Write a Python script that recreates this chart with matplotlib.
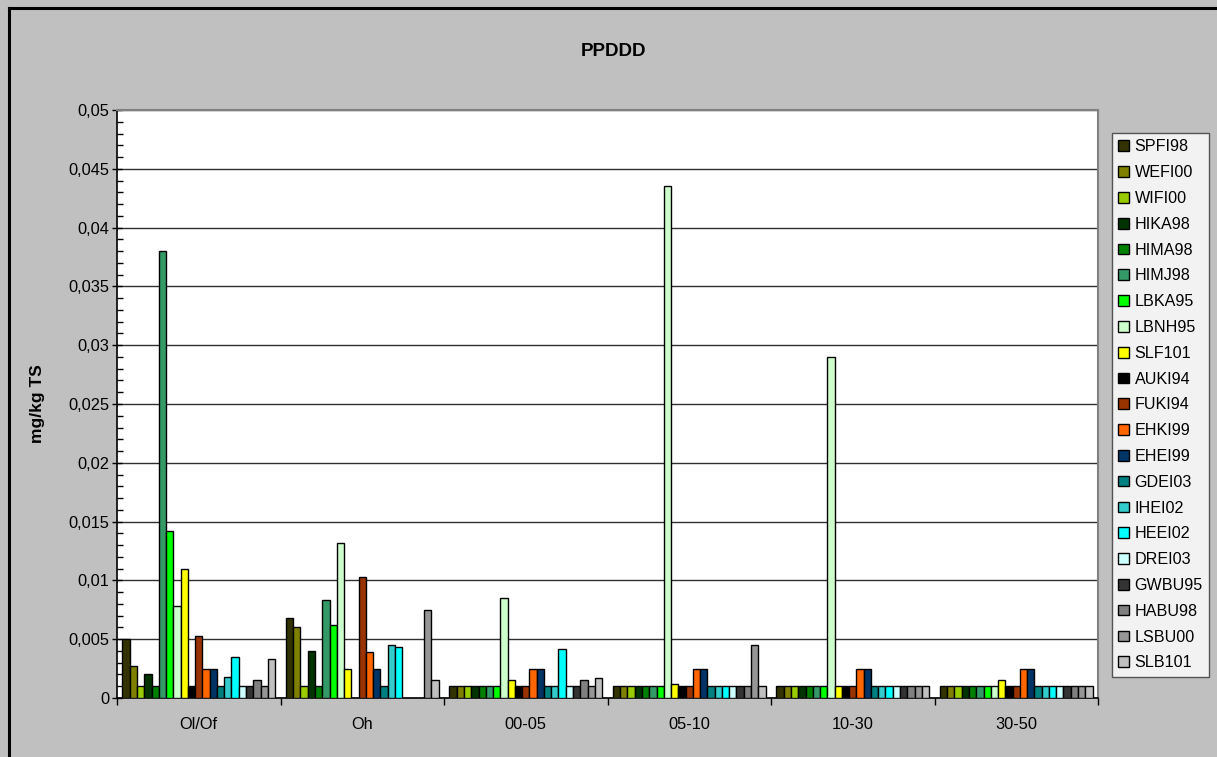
import numpy as np
import matplotlib
matplotlib.use("Agg")
import matplotlib.pyplot as plt
from matplotlib.patches import Patch
from matplotlib.lines import Line2D
from matplotlib.ticker import MultipleLocator, FuncFormatter

plt.rcParams['font.family'] = ['Liberation Sans', 'DejaVu Sans']

categories = ["Ol/Of", "Oh", "00-05", "05-10", "10-30", "30-50"]

series_names = ["SPFI98", "WEFI00", "WIFI00", "HIKA98", "HIMA98", "HIMJ98",
                "LBKA95", "LBNH95", "SLF101", "AUKI94", "FUKI94", "EHKI99",
                "EHEI99", "GDEI03", "IHEI02", "HEEI02", "DREI03", "GWBU95",
                "HABU98", "LSBU00", "SLB101"]

series_colors = ["#333300", "#808000", "#99CC00", "#003300", "#008000", "#339966",
                 "#00FF00", "#CCFFCC", "#FFFF00", "#000000", "#993300", "#FF6600",
                 "#003366", "#008080", "#33CCCC", "#00FFFF", "#CCFFFF", "#333333",
                 "#808080", "#969696", "#C0C0C0"]

nan = np.nan
# values per series, one per category (mg/kg TS)
SPFI98 = [0.0050, 0.0068, 0.001, 0.001, 0.001, 0.001]
WEFI00 = [0.0027, 0.0060, 0.001, 0.001, 0.001, 0.001]
WIFI00 = [0.001, 0.001, 0.001, 0.001, 0.001, 0.001]
HIKA98 = [0.0020, 0.0040, 0.001, 0.001, 0.001, 0.001]
HIMA98 = [0.001, 0.001, 0.001, 0.001, 0.001, 0.001]
HIMJ98 = [0.0380, 0.0083, 0.001, 0.001, 0.001, 0.001]
LBKA95 = [0.0142, 0.0062, 0.001, 0.001, 0.001, 0.001]
LBNH95 = [0.0078, 0.0132, 0.0085, 0.0435, 0.0290, 0.001]
SLF101 = [0.0110, 0.0025, 0.0015, 0.0012, 0.001, 0.0015]
AUKI94 = [0.001, nan, 0.001, 0.001, 0.001, 0.001]
FUKI94 = [0.0053, 0.0103, 0.001, 0.001, 0.001, 0.001]
EHKI99 = [0.0025, 0.0039, 0.0025, 0.0025, 0.0025, 0.0025]
EHEI99 = [0.0025, 0.0025, 0.0025, 0.0025, 0.0025, 0.0025]
GDEI03 = [0.001, 0.001, 0.001, 0.001, 0.001, 0.001]
IHEI02 = [0.0018, 0.0045, 0.001, 0.001, 0.001, 0.001]
HEEI02 = [0.0035, 0.0043, 0.0042, 0.001, 0.001, 0.001]
DREI03 = [0.001, nan, 0.001, 0.001, 0.001, 0.001]
GWBU95 = [0.001, nan, 0.001, 0.001, 0.001, 0.001]
HABU98 = [0.0015, nan, 0.0015, 0.001, 0.001, 0.001]
LSBU00 = [0.001, 0.0075, 0.001, 0.0045, 0.001, 0.001]
SLB101 = [0.0033, 0.0015, 0.0017, 0.001, 0.001, 0.001]

series_values = [SPFI98, WEFI00, WIFI00, HIKA98, HIMA98, HIMJ98, LBKA95, LBNH95,
                 SLF101, AUKI94, FUKI94, EHKI99, EHEI99, GDEI03, IHEI02, HEEI02,
                 DREI03, GWBU95, HABU98, LSBU00, SLB101]

W, H = 1217, 757
fig = plt.figure(figsize=(W / 100, H / 100), dpi=100, facecolor="#C0C0C0")

# outer chart frame (left and top edges)
fig.add_artist(Line2D([8.5 / W, 8.5 / W], [0, 1 - 8 / H], transform=fig.transFigure,
                      color="black", lw=2.2))
fig.add_artist(Line2D([8.5 / W, 1], [1 - 8 / H, 1 - 8 / H], transform=fig.transFigure,
                      color="black", lw=2.2))

ax = fig.add_axes([117 / W, 1 - 698 / H, (1098 - 117) / W, (698 - 110) / H])
ax.set_facecolor("white")

n = len(series_names)
x = np.arange(len(categories))
bw = 1.0 / (n + 1.5)
for i, (vals, col) in enumerate(zip(series_values, series_colors)):
    offs = (i - (n - 1) / 2) * bw
    ax.bar(x + offs, vals, width=bw, color=col, edgecolor="black", linewidth=1.0,
           zorder=3)

ax.set_xlim(-0.5, len(categories) - 0.5)
ax.set_ylim(0, 0.05)

ax.yaxis.set_major_locator(MultipleLocator(0.005))
ax.yaxis.set_minor_locator(MultipleLocator(0.001))
ax.yaxis.set_major_formatter(FuncFormatter(
    lambda v, p: "0" if abs(v) < 1e-12 else f"{v:.3f}".rstrip("0").replace(".", ",")))
ax.grid(axis="y", which="major", color="#303030", linewidth=1.0, zorder=0)

ax.tick_params(axis="y", which="major", direction="inout", length=7, width=1.0,
               labelsize=11.8, pad=2)
ax.tick_params(axis="y", which="minor", direction="in", length=4, width=1.0)

ax.set_xticks(x)
ax.set_xticklabels(categories)
ax.set_xticks(np.arange(len(categories) + 1) - 0.5, minor=True)
ax.tick_params(axis="x", which="major", length=0, labelsize=11.8, pad=14)
ax.tick_params(axis="x", which="minor", direction="out", length=5, width=1.0)

for side in ("left", "bottom"):
    ax.spines[side].set_color("black")
    ax.spines[side].set_linewidth(1.2)
for side in ("top", "right"):
    ax.spines[side].set_color("#808080")
    ax.spines[side].set_linewidth(1.5)

ax.set_ylabel("mg/kg TS", fontsize=12.5, fontweight="bold")
ax.yaxis.set_label_coords(-0.073, 0.5)

fig.text(0.5045, 1 - 52 / H, "PPDDD", ha="center", va="center", fontsize=13.5,
         fontweight="bold")

handles = [Patch(facecolor=c, edgecolor="black", linewidth=1.0) for c in series_colors]
leg = fig.legend(handles, series_names, loc="upper left",
                 bbox_to_anchor=(1112 / W, 1 - 133 / H), bbox_transform=fig.transFigure,
                 fontsize=11.6, frameon=True, fancybox=False, borderaxespad=0,
                 handlelength=0.65, handleheight=0.65, handletextpad=0.35,
                 labelspacing=0.67, borderpad=0.4)
leg.get_frame().set_edgecolor("#333333")
leg.get_frame().set_linewidth(1.0)
leg.get_frame().set_facecolor("white")

fig.savefig("out.png", dpi=100, facecolor=fig.get_facecolor())
